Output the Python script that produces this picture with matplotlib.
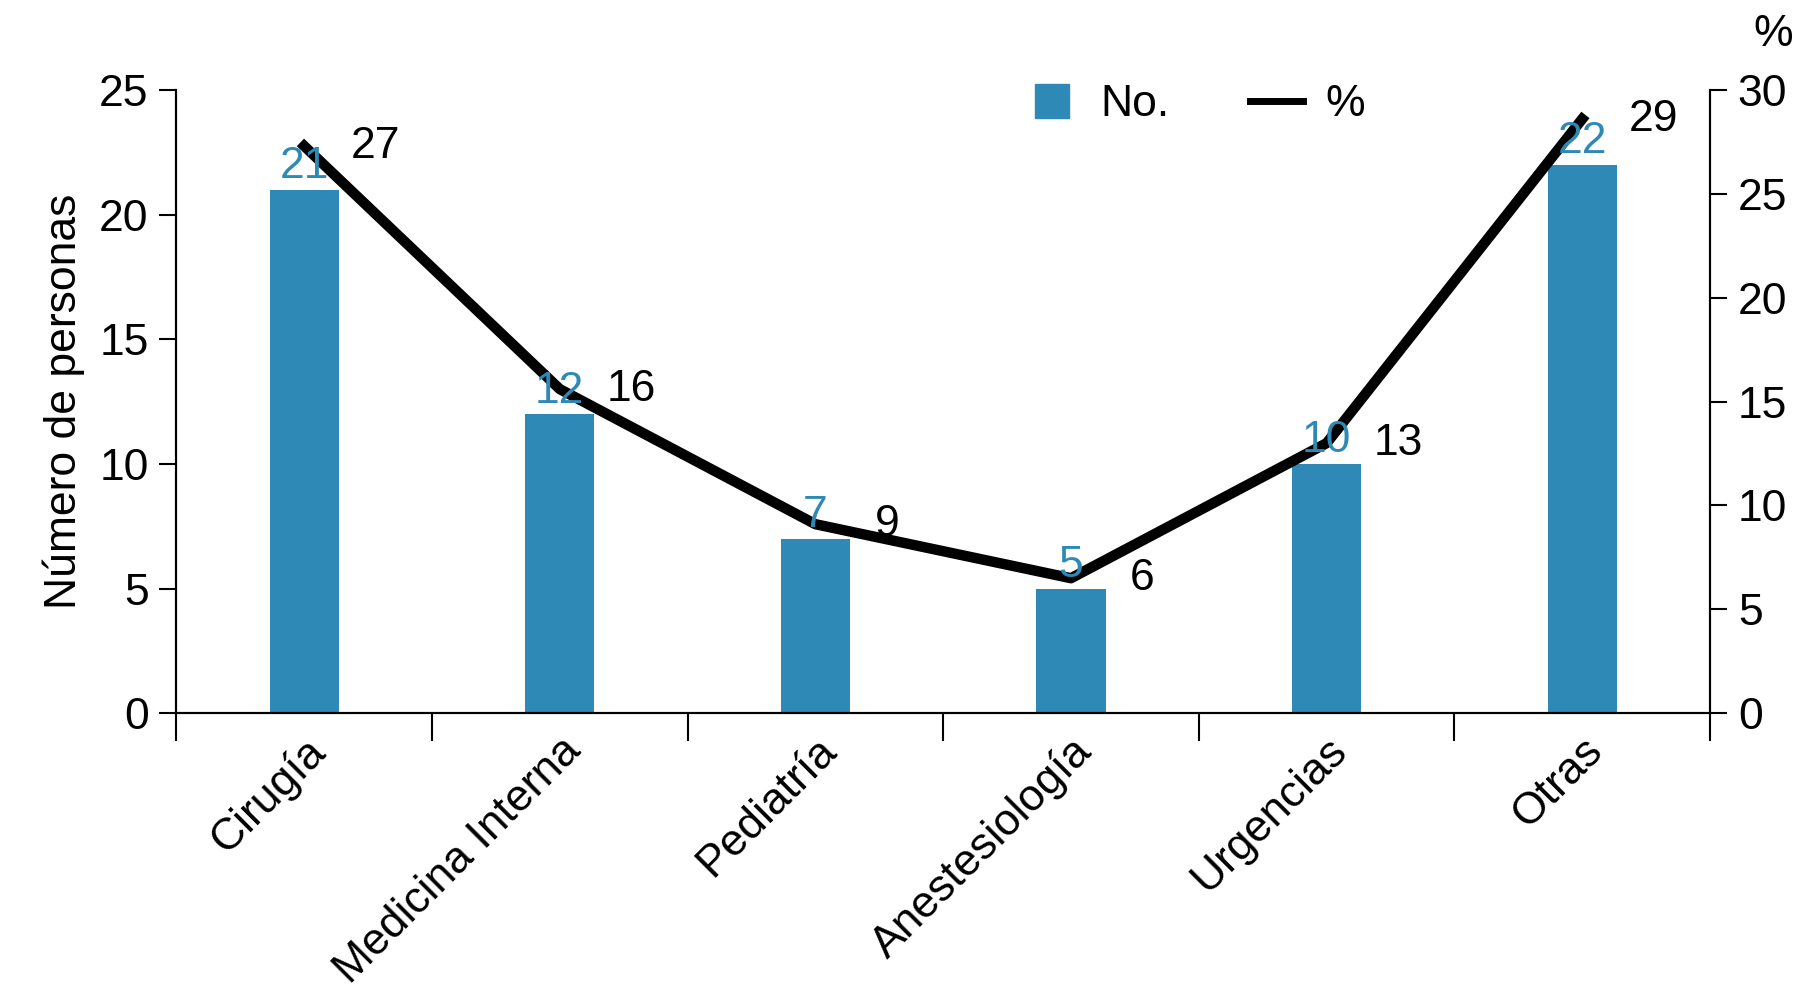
import numpy as np
import matplotlib.pyplot as plt
from matplotlib.lines import Line2D

plt.rcParams['font.family'] = ['Liberation Sans', 'DejaVu Sans']

# data
servicios = ["Cirugía", "Medicina Interna", "Pediatría", "Anestesiología", "Urgencias", "Otras"]
numero = [21, 12, 7, 5, 10, 22]
porcentaje = [27.3, 15.6, 9.1, 6.5, 13.0, 28.6]
etiquetas_pct = ["27", "16", "9", "6", "13", "29"]

azul = "#2e89b6"
fs = 32

fig = plt.figure(figsize=(18, 9.99), dpi=100)
ax = fig.add_axes([0.098, 0.286, 0.852, 0.624])
ax2 = ax.twinx()

x = np.arange(len(servicios))
ax.bar(x, numero, width=0.27, color=azul, zorder=2)
ax2.plot(x, porcentaje, color="black", lw=7.5, zorder=3)

# blue counts drawn above the line
for xi, n in zip(x, numero):
    ax2.text(xi, n + 0.1, str(n), color=azul, fontsize=fs, ha="center", va="bottom",
             transform=ax.transData, zorder=5)
for xi, p, s in zip(x, porcentaje, etiquetas_pct):
    ax2.text(xi + 0.28, p, s, color="black", fontsize=fs, ha="center", va="center", zorder=5)

ax.set_xlim(-0.5, 5.5)
ax.set_ylim(0, 25)
ax2.set_ylim(0, 30)
ax.set_yticks([0, 5, 10, 15, 20, 25])
ax2.set_yticks([0, 5, 10, 15, 20, 25, 30])

ax.set_xticks(x)
ax.set_xticklabels(servicios, rotation=45, ha="right", rotation_mode="anchor", fontsize=fs)
ax.set_xticks(np.arange(-0.5, 6, 1), minor=True)
ax.tick_params(axis="x", which="major", length=0, pad=12)
ax.tick_params(axis="x", which="minor", length=20, width=1.5, direction="out")
ax.tick_params(axis="y", labelsize=fs, length=12, width=1.5, pad=8)
ax2.tick_params(axis="y", labelsize=fs, length=12, width=1.5, pad=8)

for a in (ax, ax2):
    a.spines["top"].set_visible(False)
    for s in ("left", "right", "bottom"):
        a.spines[s].set_linewidth(1.5)

ax.set_ylabel("Número de personas", fontsize=fs, labelpad=10)
fig.text(0.985, 0.965, "%", fontsize=fs, ha="center", va="center")

h_no = Line2D([], [], marker="s", markersize=24, color=azul, linestyle="none")
h_pct = Line2D([], [], color="black", lw=5)
fig.legend([h_no, h_pct], ["No.", "%"], loc="center", bbox_to_anchor=(0.664, 0.895),
           ncol=2, frameon=False, fontsize=fs, handlelength=1.2, columnspacing=1.8,
           handletextpad=0.5)

fig.savefig("out.png", dpi=100)
